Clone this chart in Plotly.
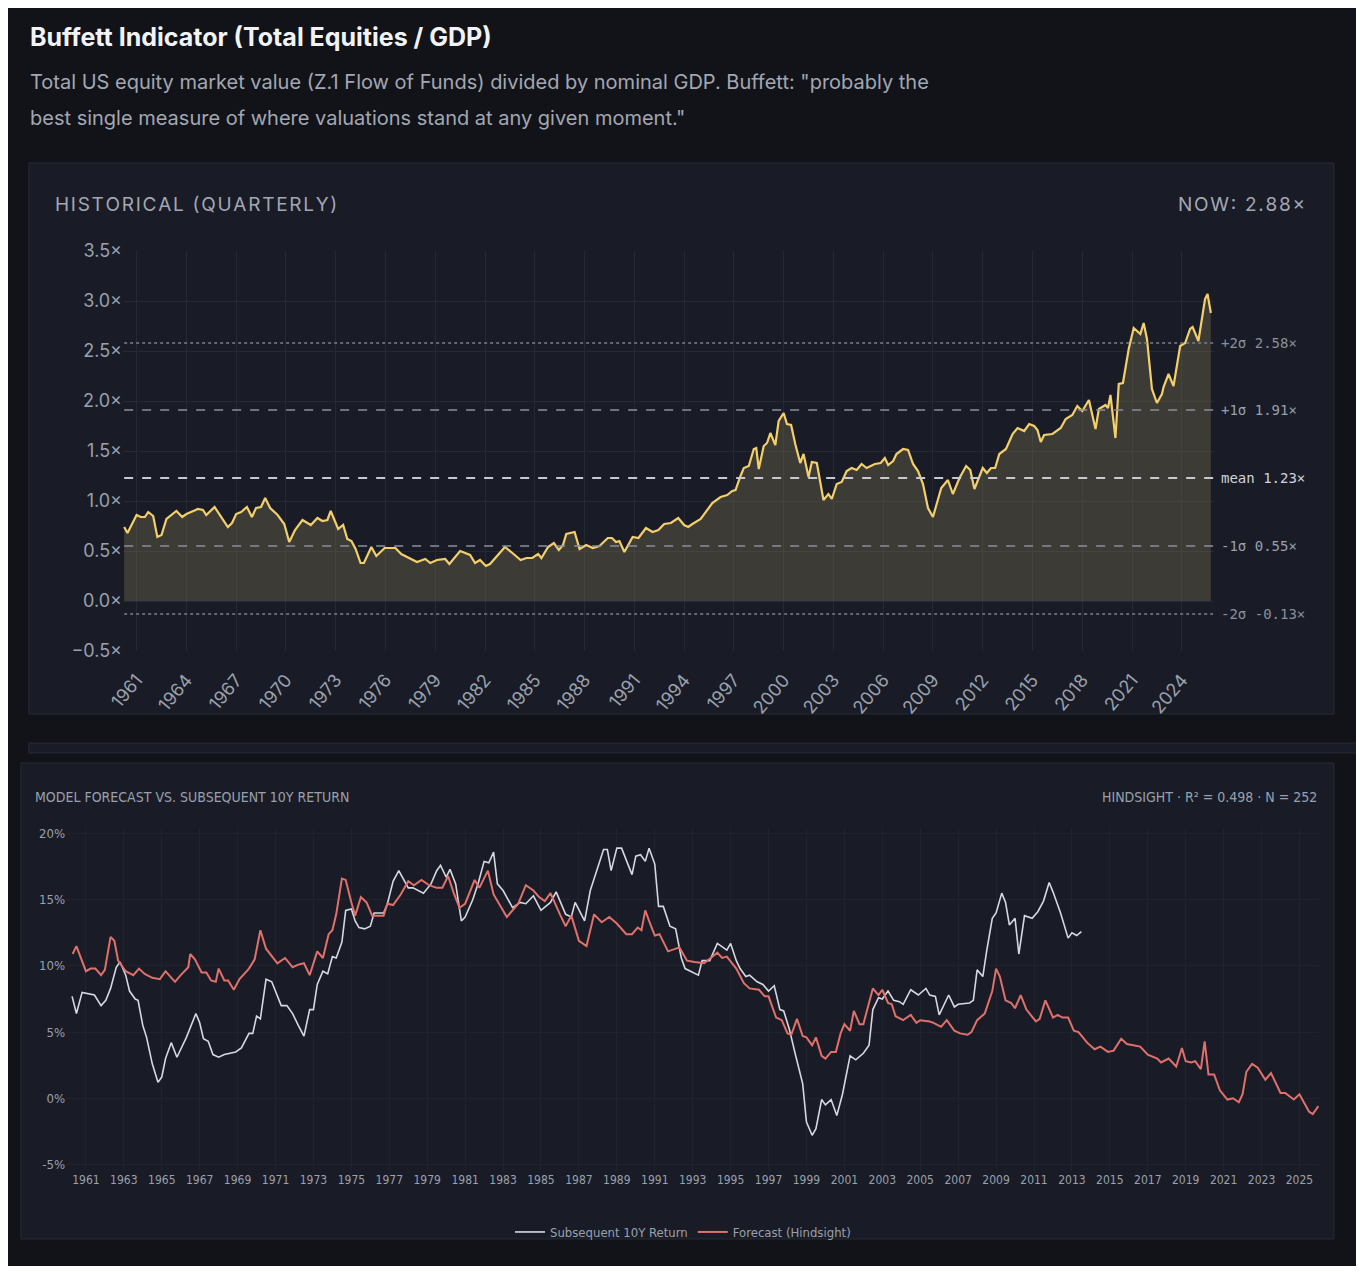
import plotly.graph_objects as go

# historical Buffett indicator (quarterly)
hist_year = [1960.25, 1960.45, 1961.0, 1961.25, 1961.5, 1961.7, 1962.0, 1962.25, 1962.5, 1962.8,
             1963.4, 1963.75, 1964.0, 1964.7, 1965.0, 1965.2, 1965.7, 1966.1, 1966.5, 1966.75,
             1967.0, 1967.3, 1967.65, 1967.95, 1968.2, 1968.5, 1968.75, 1969.05, 1969.5, 1969.9,
             1970.2, 1970.55, 1971.0, 1971.5, 1971.9, 1972.2, 1972.5, 1972.7, 1973.15, 1973.45,
             1973.7, 1973.95, 1974.2, 1974.5, 1974.7, 1975.15, 1975.45, 1975.95, 1976.6, 1976.95,
             1977.3, 1977.9, 1978.4, 1978.7, 1979.1, 1979.6, 1979.85, 1980.5, 1981.1, 1981.4,
             1981.7, 1982.05, 1982.3, 1982.7, 1983.2, 1983.65, 1984.15, 1984.5, 1984.85, 1985.2,
             1985.4, 1985.8, 1986.15, 1986.45, 1986.7, 1986.9, 1987.4, 1987.7, 1988.1, 1988.5,
             1988.9, 1989.4, 1989.65, 1989.9, 1990.1, 1990.4, 1990.9, 1991.25, 1991.7, 1992.1,
             1992.45, 1992.8, 1993.2, 1993.65, 1994.0, 1994.25, 1994.5,
             1995.0, 1995.7, 1996.2, 1996.6, 1996.9, 1997.1, 1997.4, 1997.6, 1997.9, 1998.2,
             1998.35, 1998.5, 1998.8, 1999.0, 1999.2, 1999.5, 1999.7, 2000.0, 2000.2, 2000.45,
             2000.7, 2001.0, 2001.2, 2001.5, 2001.7, 2002.0, 2002.4, 2002.7, 2002.9, 2003.2,
             2003.5, 2003.8, 2004.1, 2004.4, 2004.7, 2005.0, 2005.5, 2005.85, 2006.1, 2006.3,
             2006.6, 2006.8, 2007.2, 2007.5, 2007.8, 2008.1, 2008.4, 2008.7, 2009.0, 2009.5,
             2009.9, 2010.2, 2010.6, 2011.0, 2011.25, 2011.5, 2012.0, 2012.25, 2012.5, 2012.75,
             2013.0, 2013.4, 2013.8, 2014.1, 2014.5, 2014.8, 2015.1, 2015.3, 2015.5, 2015.7,
             2016.2, 2016.7, 2017.0, 2017.4, 2017.7, 2018.0, 2018.4, 2018.8, 2019.0, 2019.4,
             2019.55, 2019.7, 2020.0, 2020.2, 2020.45, 2020.8, 2021.1, 2021.5, 2021.7, 2021.9,
             2022.2, 2022.5, 2022.8, 2022.9, 2023.2, 2023.5, 2023.9, 2024.2, 2024.5, 2024.65,
             2025.0, 2025.4, 2025.55, 2025.75]
hist_val = [0.74, 0.68, 0.86, 0.84, 0.84, 0.89, 0.85, 0.64, 0.66, 0.82,
            0.90, 0.84, 0.87, 0.92, 0.91, 0.86, 0.94, 0.84, 0.74, 0.78,
            0.87, 0.89, 0.94, 0.84, 0.93, 0.94, 1.03, 0.93, 0.86, 0.77,
            0.59, 0.71, 0.81, 0.76, 0.83, 0.80, 0.81, 0.90, 0.72, 0.76,
            0.62, 0.60, 0.52, 0.38, 0.38, 0.54, 0.45, 0.53, 0.53, 0.47,
            0.44, 0.39, 0.42, 0.38, 0.41, 0.42, 0.37, 0.50, 0.46, 0.38,
            0.41, 0.35, 0.37, 0.45, 0.54, 0.48, 0.41, 0.43, 0.43, 0.47,
            0.43, 0.54, 0.58, 0.51, 0.56, 0.67, 0.69, 0.52, 0.56, 0.53,
            0.55, 0.63, 0.63, 0.59, 0.60, 0.49, 0.64, 0.63, 0.73, 0.69,
            0.71, 0.77, 0.78, 0.83, 0.76, 0.74, 0.77,
            0.82, 0.98, 1.04, 1.06, 1.10, 1.11, 1.25, 1.33, 1.35, 1.52,
            1.53, 1.32, 1.55, 1.58, 1.68, 1.56, 1.80, 1.88, 1.77, 1.76,
            1.57, 1.38, 1.47, 1.24, 1.39, 1.38, 1.01, 1.07, 1.02, 1.17,
            1.19, 1.30, 1.33, 1.31, 1.37, 1.33, 1.37, 1.38, 1.43, 1.36,
            1.40, 1.47, 1.52, 1.51, 1.37, 1.30, 1.17, 0.93, 0.84, 1.13,
            1.21, 1.07, 1.23, 1.35, 1.31, 1.12, 1.33, 1.28, 1.33, 1.33,
            1.47, 1.52, 1.67, 1.73, 1.70, 1.77, 1.75, 1.71, 1.59, 1.66,
            1.67, 1.73, 1.82, 1.86, 1.95, 1.90, 2.01, 1.72, 1.92, 1.96,
            1.93, 2.06, 1.63, 2.17, 2.18, 2.52, 2.73, 2.67, 2.78, 2.62,
            2.12, 1.98, 2.07, 2.14, 2.27, 2.15, 2.55, 2.58, 2.72, 2.74,
            2.60, 3.02, 3.07, 2.88]

band_name = ["+2σ", "+1σ", "mean", "-1σ", "-2σ"]
band_val = [2.58, 1.91, 1.23, 0.55, -0.13]

# subsequent realised 10y return (%)
ret_year = [1960.27, 1960.5, 1960.8, 1961.2, 1961.45, 1961.8, 1962.05, 1962.3, 1962.6, 1962.8,
            1963.1, 1963.3, 1963.6, 1963.75, 1964.0, 1964.2, 1964.5, 1964.8, 1965.0, 1965.2,
            1965.5, 1965.8, 1966.3, 1966.8, 1967.0, 1967.2, 1967.45, 1967.7, 1968.0, 1968.3,
            1968.9, 1969.2, 1969.6, 1969.8, 1970.0, 1970.2, 1970.5, 1970.8, 1971.3, 1971.6,
            1971.9, 1972.2, 1972.5, 1972.8, 1973.0, 1973.2, 1973.5, 1973.75, 1974.0, 1974.2,
            1974.5, 1974.7, 1975.0, 1975.2, 1975.4, 1975.7, 1976.0, 1976.2, 1976.7, 1976.9,
            1977.2, 1977.5, 1977.7, 1978.0, 1978.25, 1978.5, 1978.8, 1979.2, 1979.5, 1979.7,
            1980.0, 1980.2, 1980.5, 1980.8, 1981.0, 1981.4, 1981.7, 1982.0, 1982.25, 1982.5,
            1982.7, 1983.0, 1983.5, 1983.9, 1984.2, 1984.6, 1985.0, 1985.5, 1985.8, 1986.3,
            1986.6, 1986.8, 1987.3, 1987.6, 1988.1, 1988.3, 1988.5, 1988.7, 1989.0, 1989.25,
            1989.8, 1990.0, 1990.25, 1990.5, 1990.7, 1991.0, 1991.2, 1991.45, 1991.8, 1992.1,
            1992.4, 1992.6, 1993.3, 1993.5, 1993.9, 1994.3, 1994.6, 1994.8, 1995.0, 1995.3,
            1995.5, 1995.8, 1996.0, 1996.4, 1996.7, 1997.0, 1997.3, 1997.6, 1997.8, 1998.1,
            1998.4, 1998.8, 1999.0, 1999.3, 1999.5, 1999.8, 2000.0, 2000.3, 2000.6, 2000.9,
            2001.3, 2001.6, 2002.0, 2002.3, 2002.5, 2002.8, 2003.0, 2003.3, 2003.6, 2003.9,
            2004.1, 2004.5, 2004.9, 2005.3, 2005.5, 2005.8, 2006.0, 2006.5, 2006.8, 2007.0,
            2007.6, 2007.8, 2008.0, 2008.3, 2008.5, 2008.8, 2009.0, 2009.3, 2009.5, 2009.7,
            2010.0, 2010.2, 2010.5, 2010.9, 2011.2, 2011.5, 2011.8, 2012.0, 2012.4, 2012.8,
            2013.0, 2013.25, 2013.5]
ret_val = [7.7, 6.4, 8.0, 7.9, 7.8, 7.0, 7.4, 8.3, 9.9, 10.3,
           9.3, 8.1, 7.5, 7.4, 5.5, 4.6, 2.6, 1.2, 1.6, 3.0,
           4.2, 3.1, 4.6, 6.4, 5.7, 4.5, 4.3, 3.3, 3.1, 3.3,
           3.5, 3.8, 4.9, 4.9, 6.2, 6.0, 9.0, 8.8, 7.0, 7.0,
           6.4, 5.5, 4.7, 6.7, 6.7, 8.6, 9.6, 9.4, 10.7, 10.6,
           11.8, 14.2, 14.3, 13.4, 12.9, 12.8, 13.0, 14.0, 14.0, 14.7,
           16.4, 17.2, 16.7, 15.9, 15.9, 15.7, 15.5, 16.2, 17.2, 17.6,
           16.7, 17.3, 16.2, 13.4, 13.7, 15.0, 16.3, 17.9, 17.8, 18.6,
           16.2, 15.7, 14.4, 14.8, 14.7, 15.3, 14.2, 14.8, 15.6, 13.9,
           13.7, 14.8, 13.4, 15.7, 17.8, 18.8, 18.8, 17.2, 18.9, 18.9,
           16.9, 18.3, 18.4, 17.9, 18.9, 17.7, 14.5, 14.5, 13.0, 12.8,
           10.6, 9.8, 9.3, 10.4, 10.4, 11.7, 11.4, 11.2, 11.7, 10.4,
           9.8, 9.2, 9.3, 8.8, 8.6, 8.1, 8.5, 6.7, 6.6, 5.2,
           3.4, 1.1, -1.8, -2.8, -2.3, -0.1, -0.5, -0.1, -1.3, 0.3,
           3.2, 2.9, 3.4, 4.0, 6.7, 7.6, 7.5, 8.1, 7.4, 7.3,
           7.1, 8.2, 7.8, 8.3, 7.8, 7.7, 6.3, 7.8, 6.9, 7.1,
           7.2, 7.4, 9.7, 9.2, 11.1, 13.6, 14.0, 15.5, 14.8, 13.1,
           13.6, 10.9, 13.8, 13.6, 14.1, 14.9, 16.3, 15.6, 14.0, 12.1,
           12.5, 12.3, 12.6]

# model forecast with hindsight (%)
fc_year = [1960.3, 1960.5, 1961.0, 1961.25, 1961.5, 1961.8, 1962.0, 1962.3, 1962.5, 1962.7,
           1963.1, 1963.5, 1963.8, 1964.1, 1964.5, 1964.9, 1965.2, 1965.7, 1966.0, 1966.4,
           1966.5, 1966.75, 1967.1, 1967.35, 1967.6, 1967.85, 1968.0, 1968.3, 1968.5, 1968.8,
           1969.1, 1969.6, 1969.9, 1970.2, 1970.5, 1971.1, 1971.5, 1971.9, 1972.2, 1972.5,
           1972.8, 1973.2, 1973.5, 1973.8, 1974.0, 1974.2, 1974.5, 1974.7, 1975.0, 1975.2,
           1975.5, 1975.8, 1976.1, 1976.4, 1976.7, 1976.9, 1977.2, 1977.6, 1978.0, 1978.3,
           1978.7, 1979.1, 1979.5, 1979.8, 1980.1, 1980.4, 1980.7, 1981.0, 1981.5, 1981.75,
           1982.2, 1982.5, 1983.0, 1983.2, 1983.8, 1984.2, 1984.6, 1984.9, 1985.2, 1985.5,
           1986.0, 1986.3, 1986.6, 1987.0, 1987.4, 1987.8, 1988.2, 1988.6, 1989.0, 1989.5,
           1989.8, 1990.1, 1990.3, 1990.5, 1990.7, 1991.0, 1991.25, 1991.7, 1992.3, 1992.7,
           1993.1, 1993.6, 1993.95, 1994.3, 1994.55, 1994.8, 1995.3, 1995.7, 1996.0, 1996.5,
           1996.8, 1997.0, 1997.4, 1997.7, 1998.0, 1998.2, 1998.5, 1998.8, 1999.0, 1999.3,
           1999.5, 1999.8, 2000.0, 2000.3, 2000.55, 2000.8, 2001.0, 2001.3, 2001.5, 2001.8,
           2002.0, 2002.3, 2002.5, 2002.8, 2003.0, 2003.3, 2003.5, 2003.7, 2004.1, 2004.5,
           2004.8, 2005.0, 2005.5, 2005.7, 2006.1, 2006.4, 2006.8, 2007.1, 2007.5, 2007.7,
           2008.0, 2008.4, 2008.8, 2009.0, 2009.2, 2009.5, 2009.8, 2010.0, 2010.3, 2010.6,
           2011.1, 2011.3, 2011.6, 2012.0, 2012.25, 2012.5, 2012.8, 2013.1, 2013.35, 2013.8,
           2014.2, 2014.5, 2014.9, 2015.2, 2015.6, 2015.9, 2016.2, 2016.6, 2017.0, 2017.5,
           2017.7, 2018.1, 2018.5, 2018.8, 2019.0, 2019.3, 2019.5, 2019.8, 2020.0, 2020.2,
           2020.5, 2020.8, 2021.2, 2021.5, 2021.8, 2022.0, 2022.2, 2022.5, 2022.8, 2023.2,
           2023.5, 2024.0, 2024.25, 2024.7, 2025.0, 2025.5, 2025.7, 2026.0]
fc_val = [10.9, 11.5, 9.6, 9.8, 9.8, 9.3, 9.7, 12.2, 11.9, 10.4,
          9.6, 9.3, 9.8, 9.4, 9.1, 9.0, 9.6, 8.8, 9.3, 9.9,
          10.9, 10.5, 9.5, 9.5, 8.9, 8.8, 9.8, 8.9, 8.9, 8.2,
          9.0, 9.8, 10.5, 12.7, 11.3, 10.2, 10.6, 9.9, 10.1, 10.2,
          9.3, 11.1, 10.6, 12.4, 12.7, 13.9, 16.6, 16.5, 14.8, 13.8,
          15.2, 14.8, 13.8, 13.8, 13.8, 14.7, 14.6, 15.4, 16.4, 16.1,
          16.5, 16.1, 15.9, 15.9, 16.8, 15.5, 14.4, 14.7, 16.5, 15.9,
          17.2, 15.4, 14.2, 13.7, 14.7, 16.1, 15.7, 15.2, 14.9, 15.5,
          13.9, 13.0, 13.8, 11.9, 11.5, 13.9, 13.3, 13.7, 13.2, 12.4,
          12.4, 12.9, 12.7, 14.2, 13.4, 12.3, 12.4, 11.1, 11.4, 10.4,
          10.3, 10.2, 10.6, 11.0, 10.6, 10.7, 9.8, 8.7, 8.3, 8.2,
          7.7, 7.7, 6.1, 5.9, 4.9, 4.8, 6.0, 4.7, 4.6, 4.0,
          4.6, 3.2, 3.0, 3.5, 3.5, 4.9, 5.6, 5.1, 6.6, 5.6,
          5.6, 7.2, 8.3, 7.8, 8.2, 7.2, 7.1, 6.2, 5.9, 6.3,
          5.7, 5.9, 5.8, 5.7, 5.4, 5.9, 5.1, 4.9, 4.8, 5.0,
          5.9, 6.4, 8.1, 9.8, 9.2, 7.4, 7.2, 6.8, 7.8, 6.7,
          5.8, 6.0, 7.4, 6.1, 6.3, 6.1, 6.1, 5.1, 5.0, 4.2,
          3.7, 3.9, 3.5, 3.6, 4.5, 4.1, 4.0, 3.9, 3.3, 3.0,
          2.7, 3.0, 2.4, 3.8, 2.8, 2.7, 2.8, 2.2, 4.3, 1.8,
          1.8, 0.6, -0.1, 0.0, -0.3, 0.3, 2.0, 2.6, 2.3, 1.4,
          1.9, 0.4, 0.4, -0.1, 0.3, -1.0, -1.2, -0.6]

pct_ticks = [-5, 0, 5, 10, 15, 20]

OFF = 7
W, H = 1364 - 2 * OFF, 1272 - 2 * OFF
BG = "#111318"
PANEL = "#191c26"
GRID = "#252936"
TXT = "#9aa0ad"
NARROW = "DejaVu Sans Condensed, Roboto"
HAIR = "\u200a"


def px_x(p):
    return (p - OFF) / W


def px_y(p):
    return 1 - (p - OFF) / H


def spaced(s):
    return HAIR.join(s)


fig = go.Figure()

fig.add_trace(go.Scatter(
    x=hist_year, y=hist_val, mode="lines", fill="tozeroy",
    line=dict(color="#f3cf6c", width=2.2), fillcolor="rgba(120,110,80,0.38)",
    showlegend=False, xaxis="x", yaxis="y"))

fig.add_trace(go.Scatter(
    x=ret_year, y=ret_val, mode="lines", name="Subsequent 10Y Return",
    line=dict(color="#d5d8e0", width=1.6), xaxis="x2", yaxis="y2"))
fig.add_trace(go.Scatter(
    x=fc_year, y=fc_val, mode="lines", name="Forecast (Hindsight)",
    line=dict(color="#e0706a", width=2), xaxis="x2", yaxis="y2"))

shapes = [
    dict(type="rect", xref="paper", yref="paper", x0=px_x(28), x1=px_x(1333),
         y0=px_y(713), y1=px_y(162), fillcolor=PANEL, line=dict(color="#262a36", width=1),
         layer="below"),
    dict(type="rect", xref="paper", yref="paper", x0=px_x(28), x1=px_x(1357),
         y0=px_y(752), y1=px_y(742), fillcolor=PANEL, line=dict(color="#262a36", width=1),
         layer="below"),
    dict(type="rect", xref="paper", yref="paper", x0=px_x(20), x1=px_x(1333),
         y0=px_y(1238), y1=px_y(762), fillcolor=PANEL, line=dict(color="#262a36", width=1),
         layer="below"),
]
annotations = []
for name, v in zip(band_name, band_val):
    if name == "mean":
        ln = dict(color="#c6c9d2", width=2, dash="dash")
        col = "#d0d3dc"
    elif "1" in name:
        ln = dict(color="#8a8f9c", width=1.5, dash="dash")
        col = "#9aa0ad"
    else:
        ln = dict(color="#7a7f8c", width=1.5, dash="dot")
        col = "#8a8f9c"
    shapes.append(dict(type="line", xref="x", yref="y", x0=1960.25, x1=2025.9,
                       y0=v, y1=v, line=ln))
    annotations.append(dict(xref="paper", yref="y", x=px_x(1218), y=v, xanchor="left",
                            text=f"{name} {v:.2f}×", showarrow=False,
                            font=dict(family="DejaVu Sans Mono", size=14, color=col)))

annotations += [
    dict(xref="paper", yref="paper", x=px_x(27), y=px_y(36), xanchor="left", yanchor="middle",
         text="<b>Buffett Indicator (Total Equities / GDP)</b>", showarrow=False,
         font=dict(family="Inter", size=25, color="#f2f3f6")),
    dict(xref="paper", yref="paper", x=px_x(27), y=px_y(81), xanchor="left", yanchor="middle",
         showarrow=False,
         text="Total US equity market value (Z.1 Flow of Funds) divided by nominal GDP. Buffett: \"probably the",
         font=dict(family="Inter", size=20, color="#a3a7b3")),
    dict(xref="paper", yref="paper", x=px_x(27), y=px_y(117), xanchor="left", yanchor="middle",
         showarrow=False,
         text="best single measure of where valuations stand at any given moment.\"",
         font=dict(family="Inter", size=20, color="#a3a7b3")),
    dict(xref="paper", yref="paper", x=px_x(52), y=px_y(204), xanchor="left", yanchor="middle",
         text=spaced("HISTORICAL (QUARTERLY)"), showarrow=False,
         font=dict(family="Inter", size=19, color="#a3a7b3")),
    dict(xref="paper", yref="paper", x=px_x(1306), y=px_y(204), xanchor="right", yanchor="middle",
         text=spaced("NOW: 2.88×"), showarrow=False,
         font=dict(family="Inter", size=19, color="#a3a7b3")),
    dict(xref="paper", yref="paper", x=px_x(32), y=px_y(796), xanchor="left", yanchor="middle",
         text="MODEL FORECAST VS. SUBSEQUENT 10Y RETURN", showarrow=False,
         font=dict(family=NARROW, size=14, color="#9aa0ad")),
    dict(xref="paper", yref="paper", x=px_x(1318), y=px_y(796), xanchor="right", yanchor="middle",
         text="HINDSIGHT · R² = 0.498 · N = 252", showarrow=False,
         font=dict(family=NARROW, size=14, color="#9aa0ad")),
]

fig.update_layout(
    width=W, height=H, paper_bgcolor=BG, plot_bgcolor="rgba(0,0,0,0)",
    margin=dict(l=0, r=0, t=0, b=0, autoexpand=False), shapes=shapes, annotations=annotations,
    xaxis=dict(domain=[px_x(122), px_x(1213)], range=[1960.18, 2025.94], tickmode="array",
               tickvals=list(range(1961, 2025, 3)), ticktext=[str(y) for y in range(1961, 2025, 3)],
               tickangle=-50, gridcolor=GRID, zeroline=False, showline=False, ticklabelstandoff=14,
               tickfont=dict(family="Inter", size=18, color=TXT), anchor="y"),
    yaxis=dict(domain=[px_y(650), px_y(250)], range=[-0.5, 3.5], dtick=0.5, tickformat=".1f",
               ticksuffix="×", gridcolor=GRID, zeroline=False,
               tickfont=dict(family="Inter", size=18, color=TXT), anchor="x"),
    xaxis2=dict(domain=[px_x(65), px_x(1318)], range=[1959.95, 2026.03], tickmode="array",
                tickvals=list(range(1961, 2026, 2)), ticktext=[str(y) for y in range(1961, 2026, 2)],
                tickangle=0, gridcolor="#20232e", zeroline=False, showline=False,
                tickfont=dict(family=NARROW, size=12, color=TXT), anchor="y2"),
    yaxis2=dict(domain=[px_y(1170), px_y(826)], range=[-5.5, 20.5], tickmode="array",
                tickvals=pct_ticks, ticktext=[f"{t}%" for t in pct_ticks],
                gridcolor="#20232e", zeroline=False,
                tickfont=dict(family=NARROW, size=13, color=TXT), anchor="x2"),
    legend=dict(orientation="h", x=0.5, xanchor="center", y=px_y(1231), yanchor="middle",
                font=dict(family=NARROW, size=13, color=TXT),
                bgcolor="rgba(0,0,0,0)"),
)

fig.write_html("out.html")
